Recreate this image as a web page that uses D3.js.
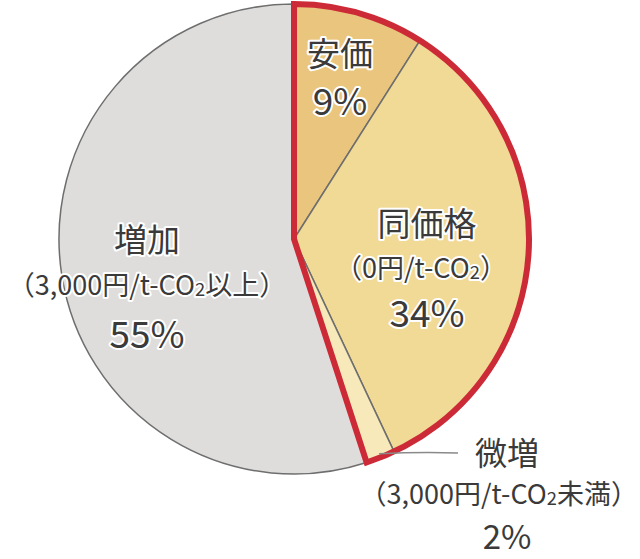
<!DOCTYPE html>
<html><head><meta charset="utf-8">
<script src="https://cdn.jsdelivr.net/npm/d3@7"></script>
<style>
html,body{margin:0;padding:0;background:#fff;}
svg{display:block;}
text{font-family:"Noto Sans CJK JP","Noto Sans",sans-serif;fill:#3a3a3a;stroke:#fff;stroke-width:4px;paint-order:stroke;stroke-linejoin:round;}
</style></head>
<body>
<svg id="chart" width="640" height="559"></svg>
<script>
const categories = ["安価", "同価格", "微増", "増加"];
const values = [9, 34, 2, 55];
const subLabels = ["", "（0円/t-CO|2|）", "（3,000円/t-CO|2|未満）", "（3,000円/t-CO|2|以上）"];
const highlighted = ["安価", "同価格", "微増"];
const colors = ["#e9c57e", "#f1d996", "#f8e9bb", "#dedddb"];

const svg = d3.select("#chart");
const cx = 294, cy = 239, R = 235;
const g = svg.append("g").attr("transform", `translate(${cx},${cy})`);

const pie = d3.pie().sort(null).value(d => d.v);
const data = categories.map((c, i) => ({c, v: values[i], col: colors[i], sub: subLabels[i]}));
const arcs = pie(data);
const arc = d3.arc().innerRadius(0).outerRadius(R);

g.selectAll("path.slice").data(arcs).join("path")
  .attr("class", "slice")
  .attr("d", arc)
  .attr("fill", d => d.data.col)
  .attr("stroke", "#6e6e6e")
  .attr("stroke-width", 1.5);

// red outline around highlighted slices
const hl = arcs.filter(a => highlighted.includes(a.data.c));
const hlArc = {startAngle: d3.min(hl, a => a.startAngle), endAngle: d3.max(hl, a => a.endAngle)};
g.append("path")
  .attr("d", d3.arc().innerRadius(0).outerRadius(R)(hlArc))
  .attr("fill", "none")
  .attr("stroke", "#cc2a36")
  .attr("stroke-width", 6)
  .attr("stroke-linejoin", "miter");

// leader line for 微増
const small = arcs[2];
const mid = (small.startAngle + small.endAngle) / 2;
const p0 = [Math.sin(mid) * (R - 4), -Math.cos(mid) * (R - 4)];
g.append("path")
  .attr("d", `M${p0[0]},${p0[1]} Q${p0[0] + 40},${p0[1] - 2} ${458 - cx},${453 - cy}`)
  .attr("fill", "none")
  .attr("stroke", "#8a8a8a")
  .attr("stroke-width", 1.5);

function addSub(sel, str, size) {
  const parts = str.split("|");
  parts.forEach((p, i) => {
    const t = sel.append("tspan").text(p);
    if (i === 1) t.attr("font-size", size * 0.68).attr("dy", 1);
    if (i === 2) t.attr("dy", -1);
  });
}

// label layout (absolute positions)
const labelPos = {
  "安価":  {x: 340, name: 66, sub: null, pct: 115},
  "同価格": {x: 427, name: 236, sub: 278, pct: 327},
  "増加":  {x: 147, name: 252, sub: 295, pct: 348},
  "微増":  {x: 507, name: 465, sub: 504, pct: 549}
};
const subPos = {"同価格": [421, "middle"], "増加": [147, "middle"], "微増": [638, "end"]};

arcs.forEach(a => {
  const p = labelPos[a.data.c];
  svg.append("text").attr("x", p.x).attr("y", p.name).attr("text-anchor", "middle")
    .attr("font-size", a.data.c === "微増" ? 32 : 33).text(a.data.c);
  if (p.sub) {
    const sp = subPos[a.data.c];
    const t = svg.append("text").attr("x", sp[0]).attr("y", p.sub).attr("text-anchor", sp[1])
      .attr("font-size", 27);
    addSub(t, a.data.sub, 27);
  }
  svg.append("text").attr("x", p.x).attr("y", p.pct).attr("text-anchor", "middle")
    .attr("font-size", a.data.c === "微増" ? 33 : 37).text(a.data.v + "%");
});
</script>
</body></html>
